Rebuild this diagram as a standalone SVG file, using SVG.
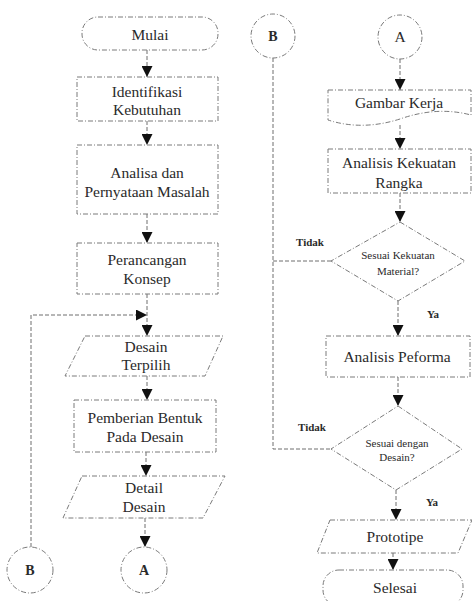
<svg xmlns="http://www.w3.org/2000/svg" width="472" height="601" viewBox="0 0 472 601" font-family="'Liberation Serif', serif">
<style>
.s{fill:none;stroke:#7a7a7a;stroke-width:1;stroke-dasharray:5 2 1 2}
.c{fill:none;stroke:#6e6e6e;stroke-width:1;stroke-dasharray:4 2}
text{font-family:'Liberation Serif',serif;fill:#2a2a2a;text-anchor:middle}
.t{font-size:15.5px}
.d{font-size:11px}
.l{font-size:11px;font-weight:bold}
.k{font-size:14px;font-weight:bold}
</style>
<defs>
<marker id="ah" viewBox="0 0 10 10" refX="10" refY="5" markerWidth="12" markerHeight="11" orient="auto" markerUnits="userSpaceOnUse">
<path d="M0,0 L10,5 L0,10 z" fill="#111111"/>
</marker>
</defs>
<rect width="472" height="601" fill="#ffffff"/>
<g id="connectors">
<path class="c" d="M147,50 V77" marker-end="url(#ah)"/>
<path class="c" d="M147,121 V145" marker-end="url(#ah)"/>
<path class="c" d="M147,214 V243" marker-end="url(#ah)"/>
<path class="c" d="M147,294 V336" marker-end="url(#ah)"/>
<path class="c" d="M31,547 V315 H147" marker-end="url(#ah)"/>
<path class="c" d="M147,376 V400" marker-end="url(#ah)"/>
<path class="c" d="M146,452 V476" marker-end="url(#ah)"/>
<path class="c" d="M145,518 V547" marker-end="url(#ah)"/>
<path class="c" d="M400,59 V90" marker-end="url(#ah)"/>
<path class="c" d="M400,125 V149" marker-end="url(#ah)"/>
<path class="c" d="M400,193 V222" marker-end="url(#ah)"/>
<path class="c" d="M398,301 V336" marker-end="url(#ah)"/>
<path class="c" d="M398,377 V406" marker-end="url(#ah)"/>
<path class="c" d="M396,490 V520" marker-end="url(#ah)"/>
<path class="c" d="M393,553 V570" marker-end="url(#ah)"/>
<path class="c" d="M273,58 V449 H331"/>
<path class="c" d="M331,261 H273"/>
<text class="l" x="310" y="246">Tidak</text>
<text class="l" x="433" y="318">Ya</text>
<text class="l" x="312" y="431">Tidak</text>
<text class="l" x="432" y="506">Ya</text>
</g>
<g id="mulai"><rect class="s" x="82" y="17" width="136" height="33" rx="16"/><text class="t" x="150" y="40">Mulai</text></g>
<g id="identifikasi"><rect class="s" x="77" y="77" width="141" height="44"/><text class="t" x="147" y="97">Identifikasi</text><text class="t" x="147" y="115">Kebutuhan</text></g>
<g id="analisa"><rect class="s" x="77" y="145" width="141" height="69"/><text class="t" x="147" y="178">Analisa dan</text><text class="t" x="147" y="197">Pernyataan Masalah</text></g>
<g id="perancangan"><rect class="s" x="77" y="243" width="141" height="51"/><text class="t" x="147" y="265">Perancangan</text><text class="t" x="147" y="284">Konsep</text></g>
<g id="desain-terpilih"><polygon class="s" points="85,336 223,336 205,376 65,376"/><text class="t" x="146" y="352">Desain</text><text class="t" x="146" y="370">Terpilih</text></g>
<g id="pemberian"><rect class="s" x="74" y="400" width="142" height="52"/><text class="t" x="145" y="423">Pemberian Bentuk</text><text class="t" x="145" y="442">Pada Desain</text></g>
<g id="detail-desain"><polygon class="s" points="82,476 225,476 203,518 63,518"/><text class="t" x="144" y="493">Detail</text><text class="t" x="144" y="512">Desain</text></g>
<g id="conn-a1"><circle class="s" cx="144" cy="570" r="23"/><text class="k" x="144" y="575">A</text></g>
<g id="conn-b1"><circle class="s" cx="30" cy="570" r="23"/><text class="k" x="30" y="575">B</text></g>
<g id="conn-b2"><circle class="s" cx="273" cy="36" r="22"/><text class="k" x="273" y="41">B</text></g>
<g id="conn-a2"><circle class="s" cx="400" cy="37" r="22"/><text class="t" x="400" y="42">A</text></g>
<g id="gambar-kerja"><path class="s" d="M328,90 H471 V115 Q437,106 400,119 Q362,131 328,120 Z"/><text class="t" x="399" y="108">Gambar Kerja</text></g>
<g id="analisis-kekuatan"><rect class="s" x="328" y="149" width="143" height="44"/><text class="t" x="399" y="168">Analisis Kekuatan</text><text class="t" x="399" y="188">Rangka</text></g>
<g id="sesuai-kekuatan"><polygon class="s" points="400,222 465,261 398,301 331,261"/><text class="d" x="398" y="259">Sesuai Kekuatan</text><text class="d" x="398" y="275">Material?</text></g>
<g id="analisis-peforma"><rect class="s" x="326" y="336" width="144" height="41"/><text class="t" x="397" y="362">Analisis Peforma</text></g>
<g id="sesuai-desain"><polygon class="s" points="398,406 462,449 396,490 331,449"/><text class="d" x="397" y="447">Sesuai dengan</text><text class="d" x="397" y="461">Desain?</text></g>
<g id="prototipe"><polygon class="s" points="330,520 472,520 458,553 317,553"/><text class="t" x="395" y="542">Prototipe</text></g>
<g id="selesai"><rect class="s" x="323" y="570" width="140" height="36" rx="16"/><text class="t" x="395" y="593">Selesai</text></g>
</svg>
